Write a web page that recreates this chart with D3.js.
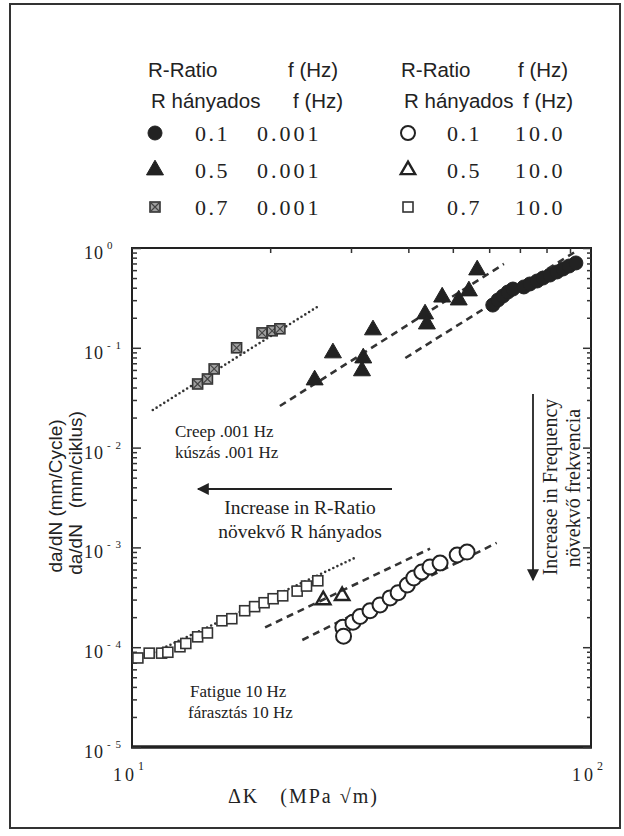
<!DOCTYPE html>
<html>
<head>
<meta charset="utf-8">
<script src="https://cdn.jsdelivr.net/npm/d3@7"></script>
<style>
  body { margin: 0; background: #fff; }
  svg { display: block; }
  text { white-space: pre; }
  .sans { font-family: "Liberation Sans", Arial, sans-serif; fill: #222; }
  .serif { font-family: "Liberation Serif", "Times New Roman", serif; fill: #222; }
</style>
</head>
<body>
<div id="chart"></div>
<script>
// creep tests, 0.001 Hz  [deltaK, da/dN]
const creepR01 = [[61.1,0.268],[62.7,0.301],[64.3,0.330],[65.9,0.362],[67.6,0.388],[71.4,0.407],[73.6,0.436],
                  [76.3,0.467],[78.6,0.500],[81.4,0.536],[84.3,0.575],[86.9,0.616],[89.6,0.660],[92.7,0.708]];
const creepR05 = [[25.0,0.0476],[27.4,0.0888],[33.5,0.151],[31.9,0.079],[31.7,0.0587],[43.5,0.218],
                  [43.9,0.173],[47.4,0.322],[51.5,0.301],[54.2,0.371],[56.5,0.602]];
const creepR07 = [[13.9,0.0434],[14.6,0.0487],[15.1,0.0614],[16.9,0.100],[19.2,0.141],[20.2,0.148],[21.0,0.155]];
// fatigue tests, 10 Hz
const fatigueR01 = [[28.8,0.000158],[28.9,0.000129],[30.3,0.000178],[31.4,0.000203],[33.0,0.000232],[34.7,0.000265],
                    [36.5,0.000312],[38.0,0.000352],[39.8,0.00042],[41.1,0.000494],[42.8,0.000567],[44.6,0.000637],
                    [46.9,0.000698],[51.1,0.000839],[53.7,0.000897]];
const fatigueR05 = [[26.1,0.000297],[28.7,0.000327]];
const fatigueR07 = [[10.3,0.000078],[10.9,0.0000872],[11.6,0.0000872],[11.97,0.000089],[12.72,0.000101],[13.1,0.000109],
                    [13.9,0.000127],[14.6,0.000139],[15.7,0.000184],[16.5,0.000193],[17.6,0.000232],[18.5,0.000255],
                    [19.4,0.000279],[20.3,0.000306],[21.3,0.000327],[22.9,0.000365],[24.0,0.00041],[25.4,0.000463]];
// fitted trend lines (end points)
const fitCreepR07 = [[11.1,0.0238],[25.7,0.268]];
const fitCreepR05 = [[21.0,0.0261],[64.6,0.692]];
const fitCreepR01 = [[39.4,0.079],[93.7,0.955]];
const fitFatigueR07 = [[10.3,0.0000744],[30.9,0.000803]];
const fitFatigueR05 = [[19.5,0.000158],[44.6,0.000972]];
const fitFatigueR01 = [[23.5,0.000118],[62.3,0.00111]];

const rRatios = ["0.1", "0.5", "0.7"];
const creepFreq = "0.001";
const fatigueFreq = "10.0";
const yExponents = [0, -1, -2, -3, -4, -5];

const W = 624, H = 836;
const svg = d3.select("#chart").append("svg").attr("width", W).attr("height", H);

// outer frame
svg.append("rect").attr("x", 10).attr("y", 4).attr("width", 610).attr("height", 824)
    .attr("fill", "none").attr("stroke", "#333").attr("stroke-width", 2);

const x = d3.scaleLog().domain([10, 100]).range([132, 591]);
const y = d3.scaleLog().domain([1e-5, 1]).range([747, 248]);

// plot frame
svg.append("rect").attr("x", 132).attr("y", 248).attr("width", 459).attr("height", 499)
    .attr("fill", "none").attr("stroke", "#222").attr("stroke-width", 2);
svg.append("line").attr("x1", 131).attr("x2", 592).attr("y1", 747).attr("y2", 747)
    .attr("stroke", "#222").attr("stroke-width", 3.5);

// y ticks, pointing inward on both sides
const yMinor = [];
for (let e = -5; e < 0; e++) for (let m = 2; m <= 9; m++) yMinor.push(m * Math.pow(10, e));
const yLeft = svg.append("g").attr("transform", "translate(132,0)")
    .call(d3.axisRight(y).tickValues(yMinor).tickSize(5).tickFormat(""));
const yLeftMajor = svg.append("g").attr("transform", "translate(132,0)")
    .call(d3.axisRight(y).tickValues(yExponents.map(e => Math.pow(10, e))).tickSize(9).tickFormat(""));
const yRight = svg.append("g").attr("transform", "translate(591,0)")
    .call(d3.axisLeft(y).tickValues(yMinor).tickSize(4).tickFormat(""));
const yRightMajor = svg.append("g").attr("transform", "translate(591,0)")
    .call(d3.axisLeft(y).tickValues(yExponents.map(e => Math.pow(10, e))).tickSize(8).tickFormat(""));
// x ticks on top
const xTop = svg.append("g").attr("transform", "translate(0,248)")
    .call(d3.axisBottom(x).tickValues([20, 30, 40, 50, 60, 70, 80, 90]).tickSize(5).tickFormat(""));
[yLeft, yLeftMajor, yRight, yRightMajor, xTop].forEach(g => {
    g.select(".domain").remove();
    g.selectAll("line").attr("stroke", "#333").attr("stroke-width", 1.5);
});

// y tick labels
yExponents.forEach(e => {
    const t = svg.append("text").attr("class", "serif").attr("x", 84).attr("y", y(Math.pow(10, e)) + 11)
        .attr("font-size", 18).attr("letter-spacing", 1);
    t.append("tspan").text("10");
    t.append("tspan").attr("dy", -10).attr("dx", 3).attr("font-size", 11).text(e === 0 ? "0" : "- " + (-e));
});
// x tick labels
[[10, "1"], [100, "2"]].forEach(([v, s]) => {
    const t = svg.append("text").attr("class", "serif").attr("x", x(v) - 19).attr("y", 781)
        .attr("font-size", 18).attr("letter-spacing", 3);
    t.append("tspan").text("10");
    t.append("tspan").attr("dy", -11).attr("dx", 1).attr("font-size", 12).text(s);
});

// axis titles
svg.append("text").attr("class", "serif").attr("x", 228).attr("y", 803).attr("font-size", 20)
    .attr("letter-spacing", 2).attr("fill", "#444").text("\u0394K   (MPa \u221Am)");
svg.append("text").attr("class", "sans").attr("transform", "translate(62,496) rotate(-90)")
    .attr("text-anchor", "middle").attr("font-size", 19).text("da/dN (mm/Cycle)");
svg.append("text").attr("class", "sans").attr("transform", "translate(82,493) rotate(-90)")
    .attr("text-anchor", "middle").attr("font-size", 19).text("da/dN   (mm/ciklus)");

// fit lines
const line = d3.line().x(d => x(d[0])).y(d => y(d[1]));
const dotted = { dash: "0,4.5", cap: "round", width: 2.6 };
const dashed = { dash: "7,5", cap: "butt", width: 2.6 };
[[fitCreepR07, dotted], [fitCreepR05, dashed], [fitCreepR01, dashed],
 [fitFatigueR07, dotted], [fitFatigueR05, dashed], [fitFatigueR01, dashed]].forEach(([pts, st]) => {
    svg.append("path").attr("d", line(pts)).attr("fill", "none").attr("stroke", "#333")
        .attr("stroke-width", st.width).attr("stroke-dasharray", st.dash).attr("stroke-linecap", st.cap);
});

// markers
function marker(g, type, filled, inPlot) {
    if (type === "circle") {
        g.append("circle").attr("r", filled ? 7 : (inPlot ? 7.5 : 7))
            .attr("fill", filled ? "#222" : "#fff").attr("stroke", "#222").attr("stroke-width", filled ? 1 : 2);
    } else if (type === "triangle") {
        g.append("path").attr("d", d3.symbol(d3.symbolTriangle, filled ? 125 : 90)())
            .attr("fill", filled ? "#222" : "none").attr("stroke", "#222").attr("stroke-width", filled ? 1 : 2.4);
    } else {
        g.append("rect").attr("x", -5).attr("y", -5).attr("width", 10).attr("height", 10)
            .attr("fill", filled ? "#a0a0a0" : "#fff").attr("stroke", "#333").attr("stroke-width", 1.6);
        if (filled) {
            g.append("path").attr("d", "M-5,-5L5,5M-5,5L5,-5").attr("stroke", "#444").attr("stroke-width", 1.2);
        }
    }
}
const series = [
    [creepR07, "square", true], [creepR05, "triangle", true], [creepR01, "circle", true],
    [fatigueR07, "square", false], [fatigueR05, "triangle", false], [fatigueR01, "circle", false]
];
series.forEach(([pts, type, filled]) => {
    svg.append("g").selectAll("g").data(pts).enter().append("g")
        .attr("transform", d => "translate(" + x(d[0]) + "," + y(d[1]) + ")")
        .each(function () { marker(d3.select(this), type, filled, true); });
});

// legend
const types = ["circle", "triangle", "square"];
[[148, creepFreq, true, 288, 195, 257], [401, fatigueFreq, false, 518, 447, 515]].forEach(([lx, freq, filled, fx, rx, vx]) => {
    svg.append("text").attr("class", "sans").attr("x", lx).attr("y", 77).attr("font-size", 20.5).text("R-Ratio");
    svg.append("text").attr("class", "sans").attr("x", fx).attr("y", 77).attr("font-size", 20.5).text("f (Hz)");
    svg.append("text").attr("class", "sans").attr("x", lx + 3).attr("y", 108).attr("font-size", 20.5).text("R hányados");
    svg.append("text").attr("class", "sans").attr("x", fx + 5).attr("y", 108).attr("font-size", 20.5).text("f (Hz)");
    rRatios.forEach((r, i) => {
        const by = 141 + i * 37;
        marker(svg.append("g").attr("transform", "translate(" + (lx + 7) + "," + (by - 8) + ")"), types[i], filled, false);
        svg.append("text").attr("class", "serif").attr("x", rx).attr("y", by).attr("font-size", 22)
            .attr("letter-spacing", 2.5).text(r);
        svg.append("text").attr("class", "serif").attr("x", vx).attr("y", by).attr("font-size", 22)
            .attr("letter-spacing", 3).text(freq);
    });
});

// annotations
svg.append("defs").append("marker").attr("id", "head").attr("viewBox", "0 0 10 10")
    .attr("refX", 9).attr("refY", 5).attr("markerWidth", 14).attr("markerHeight", 12)
    .attr("markerUnits", "userSpaceOnUse").attr("orient", "auto")
    .append("path").attr("d", "M0,0L10,5L0,10z").attr("fill", "#222");

svg.append("text").attr("class", "serif").attr("x", 175).attr("y", 437).attr("font-size", 17).text("Creep .001 Hz");
svg.append("text").attr("class", "serif").attr("x", 175).attr("y", 458).attr("font-size", 17).text("kúszás .001 Hz");
svg.append("line").attr("x1", 392).attr("x2", 198).attr("y1", 489).attr("y2", 489)
    .attr("stroke", "#222").attr("stroke-width", 1.8).attr("marker-end", "url(#head)");
svg.append("text").attr("class", "serif").attr("x", 300).attr("y", 514).attr("text-anchor", "middle")
    .attr("font-size", 19.5).text("Increase in R-Ratio");
svg.append("text").attr("class", "serif").attr("x", 300).attr("y", 538).attr("text-anchor", "middle")
    .attr("font-size", 19.5).text("növekvő R hányados");
svg.append("line").attr("x1", 533).attr("x2", 533).attr("y1", 394).attr("y2", 580)
    .attr("stroke", "#222").attr("stroke-width", 1.8).attr("marker-end", "url(#head)");
svg.append("text").attr("class", "serif").attr("transform", "translate(557,487) rotate(-90)")
    .attr("text-anchor", "middle").attr("font-size", 20).text("Increase in Frequency");
svg.append("text").attr("class", "serif").attr("transform", "translate(580,488) rotate(-90)")
    .attr("text-anchor", "middle").attr("font-size", 20).text("növekvő frekvencia");
svg.append("text").attr("class", "serif").attr("x", 190).attr("y", 697).attr("font-size", 17).text("Fatigue 10 Hz");
svg.append("text").attr("class", "serif").attr("x", 188).attr("y", 718).attr("font-size", 17).text("fárasztás 10 Hz");
</script>
</body>
</html>
